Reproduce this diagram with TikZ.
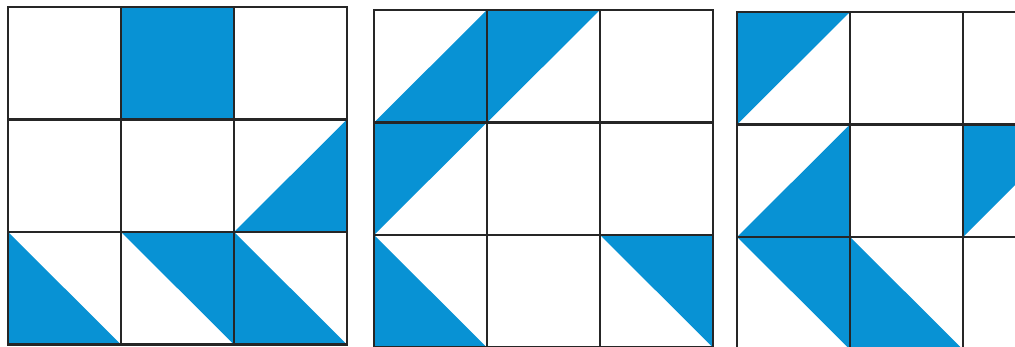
\documentclass[tikz,border=0pt]{standalone}
\definecolor{tileBlue}{RGB}{8,146,212}
\usepackage{tikz}

\begin{document}
\begin{tikzpicture}[x=0.1mm, y=-0.1mm,
          tile/.style={fill=tileBlue, draw=none},
          gridline/.style={draw=black!85, line width=0.7pt, line cap=rect}
        ]
          \useasboundingbox (0,0) rectangle (1015,346);
          \clip (0,0) rectangle (1015,346);
          % first square
          \begin{scope}[shift={(8,7)}, x=11.3mm, y=-11.25mm]
            \fill[tile] (1,0) rectangle (2,1);
            \fill[tile] (3,1) -- (3,2) -- (2,2) -- cycle;
            \fill[tile] (0,2) -- (0,3) -- (1,3) -- cycle;
            \fill[tile] (1,2) -- (2,2) -- (2,3) -- cycle;
            \fill[tile] (2,2) -- (2,3) -- (3,3) -- cycle;
            \draw[gridline] (0,0) rectangle (3,3)
              (1,0) -- (1,3) (2,0) -- (2,3) (0,1) -- (3,1) (0,2) -- (3,2);
          \end{scope}
          % second square
          \begin{scope}[shift={(374,10)}, x=11.3mm, y=-11.25mm]
            \fill[tile] (0,1) -- (1,0) -- (1,1) -- cycle;
            \fill[tile] (1,0) -- (2,0) -- (1,1) -- cycle;
            \fill[tile] (0,1) -- (1,1) -- (0,2) -- cycle;
            \fill[tile] (0,2) -- (0,3) -- (1,3) -- cycle;
            \fill[tile] (2,2) -- (3,2) -- (3,3) -- cycle;
            \draw[gridline] (0,0) rectangle (3,3)
              (1,0) -- (1,3) (2,0) -- (2,3) (0,1) -- (3,1) (0,2) -- (3,2);
          \end{scope}
          % third square
          \begin{scope}[shift={(737,12)}, x=11.3mm, y=-11.25mm]
            \fill[tile] (0,0) -- (1,0) -- (0,1) -- cycle;
            \fill[tile] (1,1) -- (1,2) -- (0,2) -- cycle;
            \fill[tile] (2,1) -- (3,1) -- (2,2) -- cycle;
            \fill[tile] (0,2) -- (1,2) -- (1,3) -- cycle;
            \fill[tile] (1,2) -- (1,3) -- (2,3) -- cycle;
            \draw[gridline] (0,0) rectangle (3,3)
              (1,0) -- (1,3) (2,0) -- (2,3) (0,1) -- (3,1) (0,2) -- (3,2);
          \end{scope}
        \end{tikzpicture}
\end{document}
